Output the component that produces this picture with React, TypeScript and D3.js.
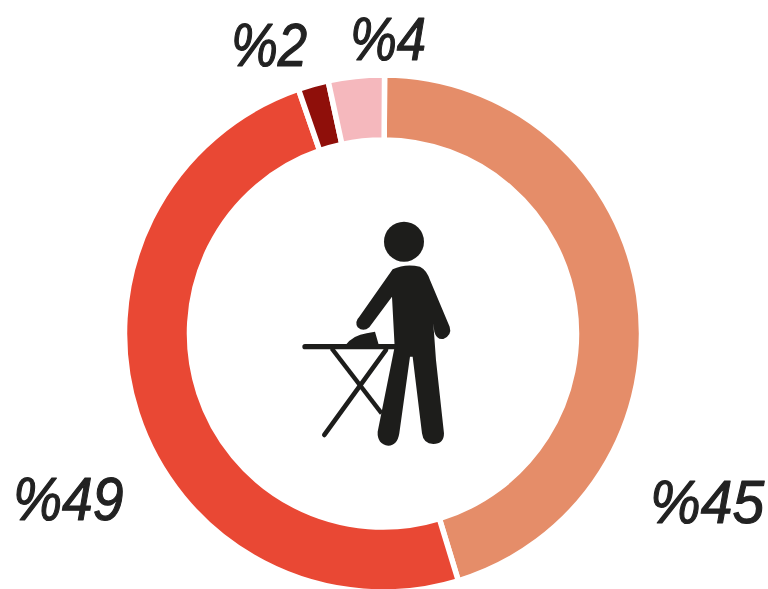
import React from "react";
import * as d3 from "d3";

const shares = [45.2, 49.4, 1.9, 3.5];
const labels = ["%45", "%49", "%2", "%4"];
const colors = ["#e58d69", "#e94834", "#8f0f0a", "#f5b8bd"];

const W = 768, H = 589;
const cx = 383, cy = 333.5, outer = 258.5, inner = 193.5;
const labelPos = [
  { x: 650, y: 523, sx: 0.92 },
  { x: 13, y: 520, sx: 0.89 },
  { x: 231, y: 66, sx: 0.85 },
  { x: 350, y: 60, sx: 0.85 },
];

export default function App() {
  const pie = d3.pie<number>().sort(null).startAngle(0.006).endAngle(2 * Math.PI + 0.006);
  const arc = d3.arc<d3.PieArcDatum<number>>().innerRadius(inner).outerRadius(outer);
  const arcs = pie(shares);
  return (
    <svg width={W} height={H} viewBox={`0 0 ${W} ${H}`} style={{ position: "absolute", left: 0, top: 0, background: "#fff" }}>
      <g transform={`translate(${cx},${cy})`}>
        {arcs.map((a, i) => (
          <path key={i} d={arc(a) ?? ""} fill={colors[i]} stroke="#fff" strokeWidth={5.5} />
        ))}
      </g>
      <g transform="translate(280,200) scale(0.3333)" fill="#1d1d1b" stroke="#1d1d1b">
        <circle cx={372} cy={125} r={60} stroke="none" />
        <path stroke="none" d="M338,208 Q375,190 420,200 Q440,210 450,240 L509,380 Q517,405 490,417 Q470,420 463,395 L460,370 L468,480 L492,700 Q492,732 460,732 Q430,732 426,700 L398,470 L390,470 L358,700 Q352,737 325,737 Q291,732 293,695 L344,440 L336,290 L268,382 Q250,397 233,382 Q223,365 238,350 Z" />
        <path stroke="none" d="M195,437 Q220,405 260,400 L285,395 L297,437 Z" />
        <line x1={75} y1={440} x2={345} y2={440} strokeWidth={16} strokeLinecap="round" />
        <line x1={155} y1={445} x2={305} y2={640} strokeWidth={13} />
        <line x1={318} y1={450} x2={133} y2={705} strokeWidth={14} strokeLinecap="round" />
      </g>
      {labels.map((t, i) => (
        <text
          key={t}
          transform={`translate(${labelPos[i].x},${labelPos[i].y}) scale(${labelPos[i].sx},1)`}
          fontFamily="'Liberation Sans', sans-serif"
          fontStyle="italic"
          fontSize={62}
          fill="#222"
          stroke="#222"
          strokeWidth={1.2}
          strokeLinejoin="round"
        >
          {t}
        </text>
      ))}
    </svg>
  );
}
